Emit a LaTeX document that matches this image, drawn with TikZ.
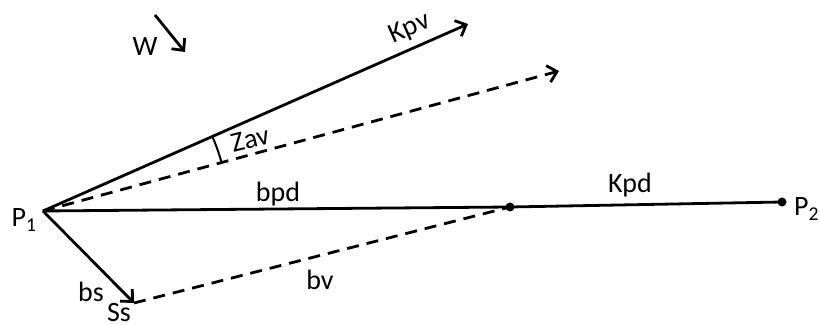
\documentclass[tikz,border=0pt]{standalone}
\usepackage{fontspec}
\setmainfont{Carlito}
\usetikzlibrary{arrows.meta}
\begin{document}
\begin{tikzpicture}[x=1pt,y=1pt,
  vec/.style={line width=2.8pt,-{Straight Barb[length=9pt,width=17pt,line width=2.8pt]}},
  plain/.style={line width=2.8pt},
  dashline/.style={line width=2.8pt,dash pattern=on 12pt off 8pt},
  lbl/.style={font=\fontsize{28}{28}\selectfont,inner sep=0pt},
  dot/.style={circle,fill=black,inner sep=0pt,minimum size=9pt}]
\useasboundingbox (0,0) rectangle (819,324);
\coordinate (P1) at (43,113);
\node[dot] (M) at (510,117) {};
\node[dot] (P2) at (782,122) {};
\coordinate (Kt) at (468,300);
\coordinate (Dt) at (559,253);
\coordinate (Ss) at (134,21);
\coordinate (Ws) at (155,309);
\coordinate (We) at (185,272);
% lines
\draw[vec] (P1) -- (Kt);
\draw[dashline,-{Straight Barb[length=9pt,width=17pt,line width=2.8pt]}] (P1) -- (Dt);
\draw[plain] (P1) -- (M.center) -- (P2.center);
\draw[vec] (P1) -- (Ss);
\draw[dashline] (Ss) -- (M.center);
\draw[vec] (Ws) -- (We);
\draw[line width=2pt] (P1) ++(23.75:185) arc (23.75:15.2:185);
% labels
\node[lbl] (lW) at (145,277) {W};
\node[lbl,rotate=23.75] (lKpv) at (410,295) {Kpv};
\node[lbl,rotate=14] (lZav) at (250,185) {Zav};
\node[lbl] (lbpd) at (278,130) {bpd};
\node[lbl] (lKpd) at (630,139) {Kpd};
\node[lbl] (lbv) at (320,44) {bv};
\node[lbl] (lbs) at (91,32) {bs};
\node[lbl] (lSs) at (119,11) {Ss};
\node[lbl] (lP1) at (24,104) {P\textsubscript{1}};
\node[lbl,anchor=west] (lP2) at (794,115) {P\textsubscript{2}};
\end{tikzpicture}
\end{document}
